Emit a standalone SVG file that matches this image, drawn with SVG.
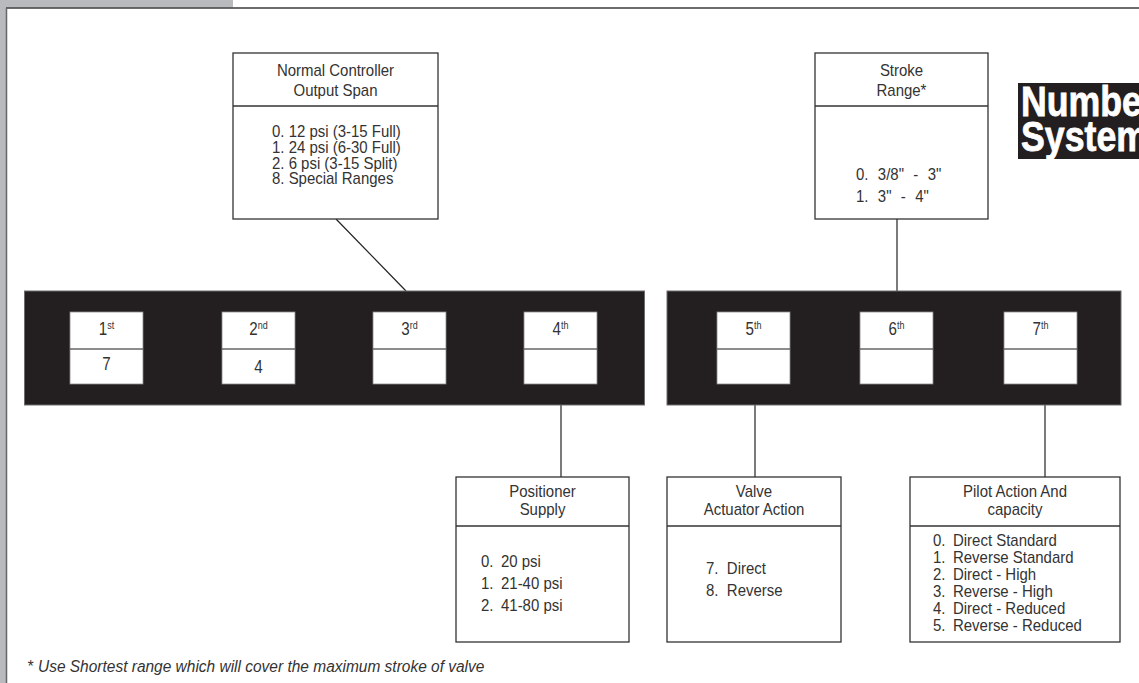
<svg xmlns="http://www.w3.org/2000/svg" width="1139" height="683" viewBox="0 0 1139 683">
<style>
.t{font-family:"Liberation Sans",Arial,sans-serif;font-size:17.2px;fill:#333}
.m{text-anchor:middle}
.ws{word-spacing:6px}
.box{fill:#fff;stroke:#333;stroke-width:1.3}
.dv{stroke:#333;stroke-width:1.3}
.bar{fill:#231f20;stroke:#6d6d6d;stroke-width:1}
.cell{fill:#fff;stroke:#8a8a8a;stroke-width:0.8}
.cdv{stroke:#666;stroke-width:1.6}
.ord{font-family:"Liberation Sans",Arial,sans-serif;font-size:18.5px;fill:#333;text-anchor:middle}
.sup{font-size:11px}
.conn line{stroke:#222;stroke-width:1.2}
</style>
<g id="frame">
<rect x="0" y="0" width="233" height="7.5" fill="#b9babe"/>
<rect x="0" y="0" width="6" height="683" fill="#b9babe"/>
<line x1="6" y1="8" x2="1139" y2="8" stroke="#3a3a3a" stroke-width="1.5"/>
<line x1="6.5" y1="8" x2="6.5" y2="683" stroke="#666" stroke-width="1.5"/>
</g>
<g class="conn" id="connectors">
<line x1="336" y1="219" x2="406" y2="291"/>
<line x1="897" y1="219" x2="897" y2="291"/>
<line x1="561" y1="405" x2="561" y2="477"/>
<line x1="755" y1="405" x2="755" y2="477"/>
<line x1="1045" y1="405" x2="1045" y2="477"/>
</g>
<g id="output-span">
<rect class="box" x="233" y="53" width="205" height="166"/>
<line class="dv" x1="233" y1="106" x2="438" y2="106"/>
<text class="t m" transform="matrix(0.87 0 0 1 335.5 76)">Normal Controller</text>
<text class="t m" transform="matrix(0.87 0 0 1 335.5 96)">Output Span</text>
<text class="t" transform="matrix(0.87 0 0 1 272 137)">0. 12 psi (3-15 Full)</text>
<text class="t" transform="matrix(0.87 0 0 1 272 153)">1. 24 psi (6-30 Full)</text>
<text class="t" transform="matrix(0.87 0 0 1 272 168.5)">2. 6 psi (3-15 Split)</text>
<text class="t" transform="matrix(0.87 0 0 1 272 184)">8. Special Ranges</text>
</g>
<g id="stroke-range">
<rect class="box" x="815" y="53" width="173" height="166"/>
<line class="dv" x1="815" y1="106" x2="988" y2="106"/>
<text class="t m" transform="matrix(0.87 0 0 1 901.5 76)">Stroke</text>
<text class="t m" transform="matrix(0.87 0 0 1 901.5 96)">Range*</text>
<text class="t ws" transform="matrix(0.87 0 0 1 856 180)">0. 3/8" - 3"</text>
<text class="t ws" transform="matrix(0.87 0 0 1 856 202)">1. 3" - 4"</text>
</g>
<g id="number-system">
<rect x="1018" y="83" width="121" height="76" fill="#231f20"/>
<text transform="matrix(0.85 0 0 1 1021 0)" font-family="'Liberation Sans',Arial,sans-serif" font-weight="bold" font-size="42" fill="#fff" stroke="#fff" stroke-width="0.8"><tspan x="0" y="116">Number</tspan><tspan x="0" y="151.5">System</tspan></text>
</g>
<g id="bar-left">
<rect class="bar" x="24.5" y="291" width="620" height="114"/>
</g>
<g id="bar-right">
<rect class="bar" x="667" y="291" width="454" height="114"/>
</g>
<g id="digit-1">
<rect class="cell" x="70" y="312" width="73" height="72"/>
<line class="cdv" x1="70" y1="349" x2="143" y2="349"/>
<text class="ord" transform="matrix(0.82 0 0 1 106.5 335)">1<tspan class="sup" dy="-6">st</tspan></text>
<text class="ord" transform="matrix(0.82 0 0 1 106.5 370)">7</text>
</g>
<g id="digit-2">
<rect class="cell" x="222" y="312" width="73" height="72"/>
<line class="cdv" x1="222" y1="349" x2="295" y2="349"/>
<text class="ord" transform="matrix(0.82 0 0 1 258.5 335)">2<tspan class="sup" dy="-6">nd</tspan></text>
<text class="ord" transform="matrix(0.82 0 0 1 258.5 372.5)">4</text>
</g>
<g id="digit-3">
<rect class="cell" x="373" y="312" width="73" height="72"/>
<line class="cdv" x1="373" y1="349" x2="446" y2="349"/>
<text class="ord" transform="matrix(0.82 0 0 1 409.5 335)">3<tspan class="sup" dy="-6">rd</tspan></text>
</g>
<g id="digit-4">
<rect class="cell" x="524" y="312" width="73" height="72"/>
<line class="cdv" x1="524" y1="349" x2="597" y2="349"/>
<text class="ord" transform="matrix(0.82 0 0 1 560.5 335)">4<tspan class="sup" dy="-6">th</tspan></text>
</g>
<g id="digit-5">
<rect class="cell" x="717" y="312" width="73" height="72"/>
<line class="cdv" x1="717" y1="349" x2="790" y2="349"/>
<text class="ord" transform="matrix(0.82 0 0 1 753.5 335)">5<tspan class="sup" dy="-6">th</tspan></text>
</g>
<g id="digit-6">
<rect class="cell" x="860" y="312" width="73" height="72"/>
<line class="cdv" x1="860" y1="349" x2="933" y2="349"/>
<text class="ord" transform="matrix(0.82 0 0 1 896.5 335)">6<tspan class="sup" dy="-6">th</tspan></text>
</g>
<g id="digit-7">
<rect class="cell" x="1004" y="312" width="73" height="72"/>
<line class="cdv" x1="1004" y1="349" x2="1077" y2="349"/>
<text class="ord" transform="matrix(0.82 0 0 1 1040.5 335)">7<tspan class="sup" dy="-6">th</tspan></text>
</g>
<g id="positioner-supply">
<rect class="box" x="456" y="477" width="173" height="165"/>
<line class="dv" x1="456" y1="526" x2="629" y2="526"/>
<text class="t m" transform="matrix(0.87 0 0 1 542.5 497)">Positioner</text>
<text class="t m" transform="matrix(0.87 0 0 1 542.5 515)">Supply</text>
<text class="t" transform="matrix(0.87 0 0 1 481 567)"><tspan x="0">0.</tspan><tspan x="23">20 psi</tspan></text>
<text class="t" transform="matrix(0.87 0 0 1 481 589)"><tspan x="0">1.</tspan><tspan x="23">21-40 psi</tspan></text>
<text class="t" transform="matrix(0.87 0 0 1 481 611)"><tspan x="0">2.</tspan><tspan x="23">41-80 psi</tspan></text>
</g>
<g id="valve-action">
<rect class="box" x="667" y="477" width="174" height="165"/>
<line class="dv" x1="667" y1="526" x2="841" y2="526"/>
<text class="t m" transform="matrix(0.87 0 0 1 754 497)">Valve</text>
<text class="t m" transform="matrix(0.87 0 0 1 754 515)">Actuator Action</text>
<text class="t" transform="matrix(0.87 0 0 1 706 574)"><tspan x="0">7.</tspan><tspan x="24">Direct</tspan></text>
<text class="t" transform="matrix(0.87 0 0 1 706 596)"><tspan x="0">8.</tspan><tspan x="24">Reverse</tspan></text>
</g>
<g id="pilot-action">
<rect class="box" x="910" y="477" width="210" height="165"/>
<line class="dv" x1="910" y1="526" x2="1120" y2="526"/>
<text class="t m" transform="matrix(0.87 0 0 1 1015 497)">Pilot Action And</text>
<text class="t m" transform="matrix(0.87 0 0 1 1015 515)">capacity</text>
<text class="t" transform="matrix(0.87 0 0 1 933 546)"><tspan x="0">0.</tspan><tspan x="23">Direct Standard</tspan></text>
<text class="t" transform="matrix(0.87 0 0 1 933 563)"><tspan x="0">1.</tspan><tspan x="23">Reverse Standard</tspan></text>
<text class="t" transform="matrix(0.87 0 0 1 933 580)"><tspan x="0">2.</tspan><tspan x="23">Direct - High</tspan></text>
<text class="t" transform="matrix(0.87 0 0 1 933 597)"><tspan x="0">3.</tspan><tspan x="23">Reverse - High</tspan></text>
<text class="t" transform="matrix(0.87 0 0 1 933 614)"><tspan x="0">4.</tspan><tspan x="23">Direct - Reduced</tspan></text>
<text class="t" transform="matrix(0.87 0 0 1 933 631)"><tspan x="0">5.</tspan><tspan x="23">Reverse - Reduced</tspan></text>
</g>
<g id="footnote">
<text class="t" font-style="italic" font-size="16.7" transform="matrix(0.9 0 0 1 27 672)"><tspan x="0">*</tspan><tspan x="12.2">Use Shortest range which will cover the maximum stroke of valve</tspan></text>
</g>
</svg>
